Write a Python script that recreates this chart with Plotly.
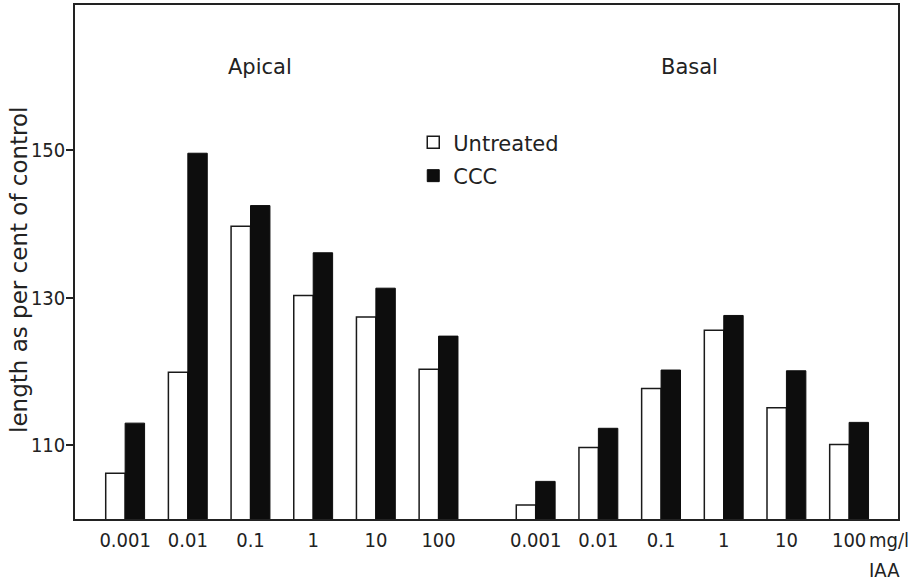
import plotly.graph_objects as go

# IAA concentrations (mg/l) used for both tissue sections
concentrations = ["0.001", "0.01", "0.1", "1", "10", "100"]

# Section length as per cent of control
apical_untreated = [106.2, 119.9, 139.7, 130.3, 127.4, 120.3]
apical_ccc = [113.0, 149.6, 142.5, 136.1, 131.3, 124.8]
basal_untreated = [101.9, 109.7, 117.7, 125.6, 115.1, 110.1]
basal_ccc = [105.1, 112.3, 120.2, 127.6, 120.1, 113.1]

y_ticks = [110, 130, 150]

# Category slots: apical groups first, then basal groups after a wider gap
group_gap = 1.55
apical_pos = [i for i in range(len(concentrations))]
basal_pos = [len(concentrations) - 1 + group_gap + i for i in range(len(concentrations))]
positions = apical_pos + basal_pos
tick_text = concentrations + concentrations

bar_w = 0.31
ink = "#1a1a1a"
text_font = "DejaVu Sans, sans-serif"
num_font = "DejaVu Sans Condensed, DejaVu Sans, sans-serif"

fig = go.Figure()
fig.add_trace(go.Bar(
    name="Untreated",
    x=positions,
    y=apical_untreated + basal_untreated,
    offset=-bar_w,
    width=bar_w,
    marker=dict(color="white", line=dict(color=ink, width=1.5)),
    legendgroup="u",
))
fig.add_trace(go.Bar(
    name="CCC",
    x=positions,
    y=apical_ccc + basal_ccc,
    offset=0,
    width=bar_w,
    marker=dict(color="#0d0d0d", line=dict(color="#0d0d0d", width=1)),
    legendgroup="c",
))

fig.update_layout(
    width=921,
    height=582,
    barmode="overlay",
    paper_bgcolor="white",
    plot_bgcolor="white",
    margin=dict(l=75, r=23, t=3, b=63),
    showlegend=True,
    legend=dict(
        x=0.411, y=0.772, xanchor="left", yanchor="top",
        font=dict(family=text_font, size=21, color="#222"),
        bgcolor="rgba(0,0,0,0)",
        tracegroupgap=3,
    ),
    xaxis=dict(
        range=[-0.8, 12.33],
        tickmode="array",
        tickvals=positions,
        ticktext=tick_text,
        ticks="",
        ticklabelstandoff=2,
        tickfont=dict(family=num_font, size=20, color="#222"),
        showgrid=False,
        zeroline=False,
        showline=True,
        linecolor="#222",
        linewidth=1.5,
        mirror=True,
    ),
    yaxis=dict(
        range=[100, 169.7],
        tickmode="array",
        tickvals=y_ticks,
        ticks="outside",
        ticklen=7,
        tickwidth=1.5,
        tickcolor="#222",
        ticklabelstandoff=-3,
        tickfont=dict(family=num_font, size=20, color="#222"),
        showgrid=False,
        zeroline=False,
        showline=True,
        linecolor="#222",
        linewidth=1.5,
        mirror=True,
    ),
    annotations=[
        dict(text="Apical", x=2.15, y=161.3, xref="x", yref="y",
             showarrow=False, font=dict(family=text_font, size=21, color="#222")),
        dict(text="Basal", x=9.0, y=161.3, xref="x", yref="y",
             showarrow=False, font=dict(family=text_font, size=21, color="#222")),
        dict(text="length as per cent of control", textangle=-90,
             x=-0.069, y=0.485, xref="paper", yref="paper",
             xanchor="center", yanchor="middle", showarrow=False,
             font=dict(family=text_font, size=23, color="#222")),
        dict(text="mg/l", x=0.962, y=-0.041, xref="paper", yref="paper",
             xanchor="left", yanchor="middle", showarrow=False,
             font=dict(family=num_font, size=20, color="#222")),
        dict(text="IAA", x=0.984, y=-0.099, xref="paper", yref="paper",
             xanchor="center", yanchor="middle", showarrow=False,
             font=dict(family=num_font, size=20, color="#222")),
    ],
)

fig.write_html("out.html")
